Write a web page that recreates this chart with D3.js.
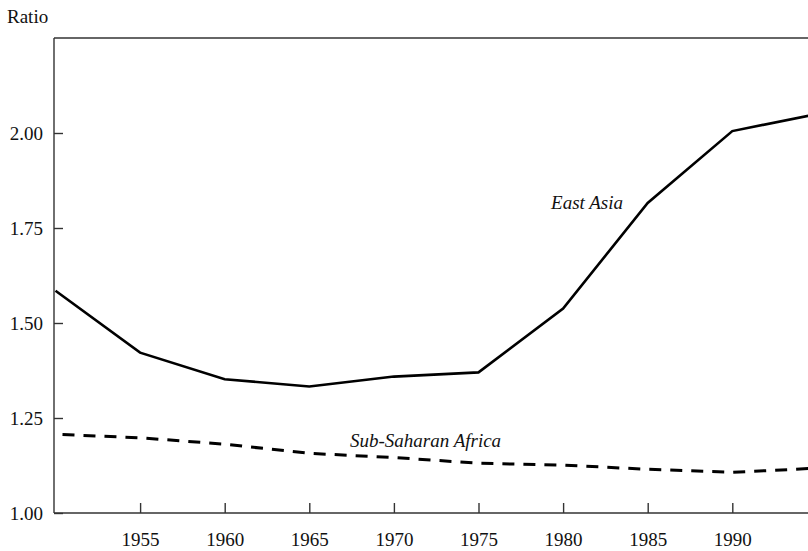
<!DOCTYPE html>
<html>
<head>
<meta charset="utf-8">
<script src="https://cdn.jsdelivr.net/npm/d3@7"></script>
</head>
<body style="margin:0">
<svg id="chart" width="808" height="551" style="display:block"></svg>
<script>
const years = [1950, 1955, 1960, 1965, 1970, 1975, 1980, 1985, 1990, 1995];
const eastAsia = [1.585, 1.422, 1.352, 1.333, 1.359, 1.370, 1.538, 1.816, 2.005, 2.05];
const subSaharanAfrica = [1.207, 1.198, 1.181, 1.157, 1.146, 1.131, 1.126, 1.115, 1.107, 1.118];
const xTickValues = [1955, 1960, 1965, 1970, 1975, 1980, 1985, 1990];
const yTickValues = [1.00, 1.25, 1.50, 1.75, 2.00];
const yAxisLabel = "Ratio";
const seriesLabels = ["East Asia", "Sub-Saharan Africa"];

const FONT = "'Liberation Serif'";
const FS = "19px";

const svg = d3.select("#chart");
const plotLeft = 54, plotTop = 38, plotBottom = 513;

const x = d3.scaleLinear().domain([1950, 2000]).range([55.5, 901.5]);
const y = d3.scaleLinear().domain([1.0, 2.25]).range([plotBottom, plotTop]);

const axisColor = "#333";

// top border
svg.append("line")
  .attr("x1", plotLeft).attr("x2", 808)
  .attr("y1", plotTop).attr("y2", plotTop)
  .attr("stroke", axisColor).attr("stroke-width", 1.4);

// left axis
const yAxis = svg.append("g")
  .attr("transform", `translate(${plotLeft},0)`)
  .call(d3.axisLeft(y).tickValues(yTickValues).tickFormat(d3.format(".2f")).tickSize(-9).tickPadding(11));
yAxis.select(".domain").attr("stroke", axisColor).attr("stroke-width", 1.4).attr("d", `M0,${plotTop}V${plotBottom}`);
yAxis.selectAll(".tick line").attr("stroke", axisColor).attr("stroke-width", 1.4);
yAxis.selectAll(".tick text").attr("fill", "#111").attr("dy", "0.34em");

// bottom axis
const xAxis = svg.append("g")
  .attr("transform", `translate(0,${plotBottom})`)
  .call(d3.axisBottom(x).tickValues(xTickValues).tickFormat(d3.format("d")).tickSize(-10).tickPadding(20));
xAxis.select(".domain").attr("stroke", axisColor).attr("stroke-width", 1.4).attr("d", `M${plotLeft},0H808`);
xAxis.selectAll(".tick line").attr("stroke", axisColor).attr("stroke-width", 1.4);
xAxis.selectAll(".tick text").attr("fill", "#111");

// y axis title
svg.append("text")
  .attr("x", 7).attr("y", 23)
  .attr("fill", "#111")
  .text(yAxisLabel);

const line = d3.line().x(d => x(d[0])).y(d => y(d[1]));

svg.append("path")
  .datum(years.map((yr, i) => [yr, eastAsia[i]]))
  .attr("d", line)
  .attr("fill", "none")
  .attr("stroke", "#000")
  .attr("stroke-width", 2.6)
  .attr("stroke-linejoin", "miter");

svg.append("path")
  .datum(years.map((yr, i) => [yr, subSaharanAfrica[i]]))
  .attr("d", line)
  .attr("fill", "none")
  .attr("stroke", "#000")
  .attr("stroke-width", 3)
  .attr("stroke-dasharray", "12,9")
  .attr("stroke-dashoffset", 14);

// series labels
svg.append("text")
  .attr("x", 623).attr("y", 209)
  .attr("text-anchor", "end")
  .attr("font-style", "italic")
  .attr("fill", "#111")
  .text(seriesLabels[0]);

svg.append("text")
  .attr("x", 350).attr("y", 447)
  .attr("font-style", "italic")
  .attr("fill", "#111")
  .text(seriesLabels[1]);

// apply serif font to every text
svg.selectAll("g").attr("font-family", null).attr("font-size", null);
svg.selectAll("text").style("font-family", FONT).style("font-size", FS);
</script>
</body>
</html>
